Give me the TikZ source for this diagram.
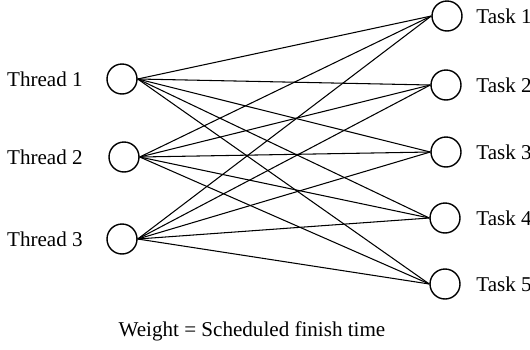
\documentclass[tikz,border=0pt]{standalone}
\usepackage{fontspec}
\setmainfont{Liberation Serif}
\tikzset{
    vertex/.style={draw,circle,line width=0.8pt,minimum size=0.6cm,inner sep=0pt},
    label/.style={inner sep=0pt,font=\fontsize{12}{14}\selectfont}
}
\begin{document}
\begin{tikzpicture}[x=0.02cm,y=-0.02cm]
    \useasboundingbox (0,0) rectangle (530,349);

    \node[vertex] (th1) at (122,79) {};
    \node[vertex] (th2) at (124,157) {};
    \node[vertex] (th3) at (122,239) {};
    \node[label,anchor=east] at (83,79) {Thread 1};
    \node[label,anchor=east] at (83,157) {Thread 2};
    \node[label,anchor=east] at (83,239) {Thread 3};

    \node[vertex] (ta1) at (447,16) {};
    \node[vertex] (ta2) at (446,85) {};
    \node[vertex] (ta3) at (446,152) {};
    \node[vertex] (ta4) at (445,218) {};
    \node[vertex] (ta5) at (445,284) {};
    \node[label,anchor=west] at (476,16) {Task 1};
    \node[label,anchor=west] at (476,85) {Task 2};
    \node[label,anchor=west] at (476,152) {Task 3};
    \node[label,anchor=west] at (476,218) {Task 4};
    \node[label,anchor=west] at (476,284) {Task 5};

    \foreach \i in {1,2,3}
        \foreach \j in {1,...,5}
            \draw[line width=0.6pt] (th\i.east) -- (ta\j.west);

    \node[label,anchor=base] at (252,336) {Weight = Scheduled finish time};
\end{tikzpicture}
\end{document}
